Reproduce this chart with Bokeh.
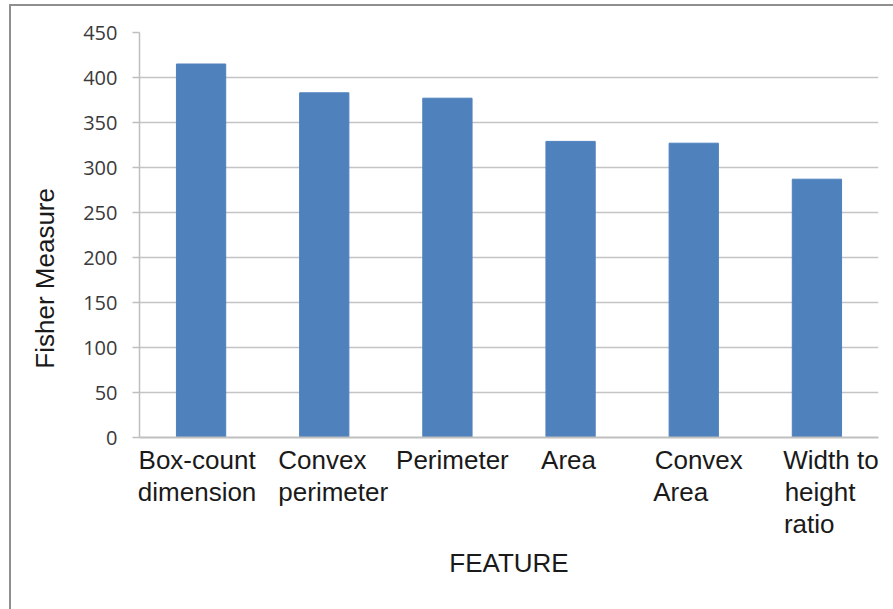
from bokeh.plotting import figure
from bokeh.models import Range1d, FixedTicker
from bokeh.embed import file_html
from bokeh.resources import INLINE

# ---- data ----
categories = ["Box-count\ndimension", "Convex\nperimeter", "Perimeter", "Area",
              "Convex\nArea", "Width to\nheight\nratio"]
values = [415, 383, 377, 329, 327, 287]
y_ticks = [0, 50, 100, 150, 200, 250, 300, 350, 400, 450]

# ---- layout / style ----
FRAME_W = 739
FONT = "Liberation Sans"
# px offset of each label block centre from its bar centre
label_shift = [-4, 9, 5, -2, 5, 14]
# non-breaking spaces appended to each line so that lines look left-aligned
line_pad = [[0, 0], [3, 0], [0], [0], [0, 5], [0, 3, 6]]

n = len(categories)
positions = [i + 0.5 for i in range(n)]
px_per_unit = FRAME_W / n
label_anchor = [pos + s / px_per_unit for pos, s in zip(positions, label_shift)]
label_text = ["\n".join(line + "\u00a0" * k for line, k in zip(cat.split("\n"), pads))
              for cat, pads in zip(categories, line_pad)]

p = figure(frame_width=FRAME_W, frame_height=405,
           x_range=Range1d(0, n), y_range=Range1d(0, 450),
           output_backend="svg", toolbar_location=None,
           min_border_left=128, min_border_top=26, min_border_right=15, min_border_bottom=172)
p.margin = (4, 0, 0, 9)
p.styles = {"border-left": "2px solid #8f8f8f", "border-top": "2px solid #8f8f8f"}

p.vbar(x=positions, top=values, width=0.4, color="#4F81BD")

p.outline_line_color = None
p.xgrid.grid_line_color = None
p.ygrid.ticker = FixedTicker(ticks=y_ticks)
p.ygrid.grid_line_color = "#c4c4c4"
p.ygrid.grid_line_width = 1.5

ya = p.yaxis[0]
ya.ticker = FixedTicker(ticks=y_ticks)
ya.major_tick_out = 7
ya.major_tick_in = 0
ya.minor_tick_line_color = None
ya.major_tick_line_color = "#bfbfbf"
ya.major_tick_line_width = 1.5
ya.axis_line_color = "#bfbfbf"
ya.axis_line_width = 1.5
ya.major_label_standoff = 15
ya.major_label_text_font = "Open Sans"
ya.major_label_text_font_size = "20px"
ya.major_label_text_color = "#3a3a3a"
ya.axis_label = "Fisher Measure" + "\u00a0" * 12
ya.axis_label_text_font = FONT
ya.axis_label_text_font_size = "26px"
ya.axis_label_text_font_style = "normal"
ya.axis_label_text_color = "#1a1a1a"
ya.axis_label_standoff = 20

xa = p.xaxis[0]
xa.ticker = FixedTicker(ticks=label_anchor)
xa.major_label_overrides = {a: t for a, t in zip(label_anchor, label_text)}
xa.major_tick_out = 0
xa.major_tick_in = 0
xa.minor_tick_line_color = None
xa.axis_line_color = "#bfbfbf"
xa.axis_line_width = 2
xa.major_label_text_font = FONT
xa.major_label_text_font_size = "26px"
xa.major_label_text_color = "#1a1a1a"
xa.major_label_text_line_height = 1.07
xa.major_label_standoff = 7
xa.axis_label = "FEATURE"
xa.axis_label_text_font = FONT
xa.axis_label_text_font_size = "26px"
xa.axis_label_text_font_style = "normal"
xa.axis_label_text_color = "#1a1a1a"
xa.axis_label_standoff = 6

open("out.html", "w").write(file_html(p, INLINE))
